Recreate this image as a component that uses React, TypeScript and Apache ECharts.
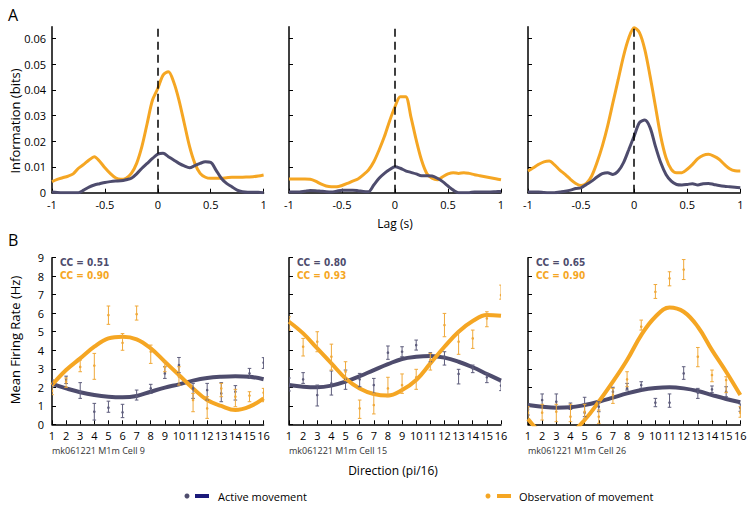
import React, { useEffect, useRef } from "react";
import * as echarts from "echarts";

// ---------- Panel A: information vs lag ----------
const lags = [
  -1, -0.95, -0.9, -0.85, -0.8, -0.75, -0.7, -0.65, -0.6, -0.55, -0.5, -0.45, -0.4, -0.35, -0.3, -0.25,
  -0.2, -0.15, -0.1, -0.05, 0, 0.05, 0.1, 0.15, 0.2, 0.25, 0.3, 0.35, 0.4, 0.45, 0.5, 0.55, 0.6, 0.65,
  0.7, 0.75, 0.8, 0.85, 0.9, 0.95, 1,
];
const lagTicks = [-1, -0.5, 0, 0.5, 1];
const infoTicks = [0, 0.01, 0.02, 0.03, 0.04, 0.05, 0.06];

const cell9InfoObs = [
  0.0043, 0.0052, 0.0058, 0.0064, 0.0073, 0.0095, 0.011, 0.0127, 0.014, 0.0122, 0.0097, 0.0075, 0.0058,
  0.0052, 0.0056, 0.0075, 0.0114, 0.018, 0.027, 0.036, 0.0405, 0.0457, 0.047, 0.043, 0.036, 0.027, 0.018,
  0.0114, 0.0075, 0.006, 0.0056, 0.0056, 0.0056, 0.0058, 0.006, 0.006, 0.006, 0.0061, 0.0062, 0.0065, 0.0069,
];
const cell9InfoAct = [
  0.0003, 0.0001, 0, 0, 0, 0, 0.001, 0.0022, 0.003, 0.0035, 0.004, 0.0043, 0.0045, 0.0046, 0.005, 0.0056,
  0.0073, 0.0095, 0.0114, 0.0133, 0.015, 0.0153, 0.014, 0.0127, 0.0114, 0.0104, 0.0097, 0.0105, 0.0114,
  0.012, 0.0118, 0.0088, 0.0056, 0.0036, 0.0023, 0.001, 0.0004, 0.0002, 0.0002, 0.0002, 0,
];
const cell15InfoObs = [
  0.0053, 0.0053, 0.0053, 0.0053, 0.0052, 0.0045, 0.0034, 0.0026, 0.0023, 0.0023, 0.0028, 0.0036, 0.0045,
  0.0053, 0.0069, 0.0088, 0.012, 0.0166, 0.0218, 0.028, 0.0334, 0.0373, 0.0373, 0.0295, 0.0205, 0.0127,
  0.0075, 0.0056, 0.005, 0.0062, 0.0073, 0.0078, 0.0075, 0.0078, 0.0075, 0.007, 0.0066, 0.0062, 0.0058,
  0.0054, 0.005,
];
const cell15InfoAct = [
  0.0003, 0.0003, 0.0003, 0.0006, 0.0009, 0.0008, 0.0006, 0.0004, 0.0003, 0.0006, 0.001, 0.001, 0.001,
  0.0008, 0.0005, 0.0004, 0.003, 0.0056, 0.0075, 0.009, 0.0101, 0.0095, 0.0085, 0.0079, 0.0073, 0.0066,
  0.0066, 0.0065, 0.0056, 0.0043, 0.0026, 0.001, 0, 0, 0, 0.0003, 0.0003, 0.0003, 0.0003, 0.0004, 0.0005,
];
const cell26InfoObs = [
  0.0084, 0.0097, 0.011, 0.012, 0.0123, 0.0108, 0.0088, 0.0071, 0.0052, 0.0036, 0.0028, 0.0036, 0.0065,
  0.0117, 0.0181, 0.0259, 0.035, 0.044, 0.0531, 0.0602, 0.0641, 0.0622, 0.0557, 0.0453, 0.0337, 0.022,
  0.0136, 0.0091, 0.0078, 0.0078, 0.0091, 0.011, 0.0132, 0.0145, 0.0149, 0.0142, 0.013, 0.011, 0.0093,
  0.0085, 0.0084,
];
const cell26InfoAct = [
  0.0003, 0.0003, 0.0003, 0.0001, 0, 0, 0.0003, 0.0006, 0.001, 0.0016, 0.0019, 0.0032, 0.0045, 0.0061,
  0.0074, 0.0078, 0.0071, 0.0084, 0.0117, 0.0168, 0.022, 0.0272, 0.0282, 0.0253, 0.0181, 0.0117, 0.0071,
  0.0045, 0.0032, 0.003, 0.0032, 0.0035, 0.003, 0.0035, 0.0036, 0.0032, 0.0028, 0.0025, 0.0023, 0.0021,
  0.0019,
];

// ---------- Panel B: tuning curves ----------
const directions = [1, 2, 3, 4, 5, 6, 7, 8, 9, 10, 11, 12, 13, 14, 15, 16];
const rateTicks = [0, 1, 2, 3, 4, 5, 6, 7, 8, 9];

const cell9FitAct = [2.18, 1.94, 1.73, 1.58, 1.49, 1.46, 1.53, 1.76, 1.98, 2.16, 2.36, 2.5, 2.57, 2.6, 2.57, 2.43];
const cell9FitObs = [2.12, 2.93, 3.56, 4.19, 4.64, 4.73, 4.59, 4.1, 3.38, 2.66, 1.94, 1.31, 0.99, 0.77, 0.95, 1.4];
const cell9ActMean = [2.2, 2.4, 1.76, 0.68, 0.9, 0.65, 1.49, 1.94, 2.75, 3.2, 1.94, 1.85, 1.67, 1.76, 2.75, 3.33];
const cell9ActLo = [2.0, 2.2, 1.4, 0.23, 0.65, 0.36, 1.31, 1.67, 2.48, 2.79, 1.4, 1.31, 1.22, 1.31, 2.48, 3.02];
const cell9ActHi = [2.4, 2.6, 2.25, 1.13, 1.25, 1.08, 1.85, 2.16, 3.11, 3.61, 2.21, 2.21, 2.25, 2.09, 3.02, 3.6];
const cell9ObsMean = [1.8, 2.3, 3.1, 3.17, 5.9, 4.4, 5.95, 3.92, 3.1, 2.57, 1.31, 0.86, 1.94, 1.49, 1.55, 1.71];
const cell9ObsLo = [1.6, 2.0, 2.84, 2.43, 5.4, 4.0, 5.63, 3.29, 2.84, 2.12, 0.68, 0.32, 1.49, 0.95, 1.22, 1.22];
const cell9ObsHi = [2.1, 2.5, 3.47, 3.83, 6.39, 4.9, 6.39, 4.28, 3.38, 3.11, 1.67, 1.49, 2.21, 1.89, 1.76, 1.94];

const cell15FitAct = [2.12, 2.03, 2.0, 2.09, 2.3, 2.6, 2.93, 3.25, 3.53, 3.65, 3.69, 3.6, 3.38, 3.08, 2.72, 2.36];
const cell15FitObs = [5.54, 4.91, 4.1, 3.29, 2.48, 1.94, 1.64, 1.55, 1.85, 2.39, 3.29, 4.19, 5.0, 5.58, 5.9, 5.86];
const cell15ActMean = [2.09, 2.43, 1.58, 2.21, 2.43, 2.43, 2.12, 3.87, 3.92, 4.28, 3.65, 3.65, 2.72, 3.02, 2.54, 2.09];
const cell15ActLo = [1.8, 2.21, 0.99, 1.58, 1.89, 2.03, 1.67, 3.51, 3.65, 4.01, 3.38, 3.2, 2.18, 2.79, 2.25, 1.82];
const cell15ActHi = [2.5, 2.79, 2.12, 2.88, 2.93, 2.75, 2.48, 4.23, 4.19, 4.55, 3.87, 3.92, 2.97, 3.2, 2.75, 2.3];
const cell15ObsMean = [5.63, 4.19, 4.46, 3.65, 2.84, 0.86, 1.04, 1.94, 2.12, 2.54, 3.47, 5.36, 4.46, 4.64, 5.72, 6.98];
const cell15ObsLo = [5.09, 3.69, 3.92, 2.93, 2.36, 0.32, 0.56, 1.49, 1.67, 1.89, 2.93, 4.73, 3.78, 4.1, 5.27, 6.76];
const cell15ObsHi = [5.81, 4.64, 5.0, 4.33, 3.38, 1.31, 1.67, 2.54, 2.72, 2.97, 3.83, 5.99, 5.0, 5.09, 6.08, 7.52];

const cell26FitAct = [1.04, 0.95, 0.9, 0.92, 1.04, 1.22, 1.44, 1.67, 1.85, 1.96, 2.0, 1.94, 1.8, 1.58, 1.37, 1.19];
const cell26FitObs = [0.29, -0.5, -0.8, -0.5, 0.23, 1.22, 2.3, 3.47, 4.82, 5.81, 6.31, 6.08, 5.27, 4.01, 2.84, 1.58];
const cell26ActMean = [0.8, 1.31, 1.22, 1.0, 0.63, 0.95, 1.76, 1.94, 2.12, 1.17, 1.17, 2.75, 1.71, 1.89, 1.76, 0.9];
const cell26ActLo = [0.5, 0.95, 0.95, 0.8, 0.41, 0.68, 1.49, 1.85, 1.94, 0.95, 0.92, 2.43, 1.4, 1.71, 1.49, 0.7];
const cell26ActHi = [1.1, 1.64, 1.64, 1.15, 1.46, 1.22, 2.0, 2.21, 2.3, 1.4, 1.64, 3.11, 1.94, 2.07, 2.03, 1.1];
const cell26ObsMean = [0.63, 0.63, 0.68, 0.41, 0.68, 0.41, 1.58, 2.43, 5.27, 7.16, 7.88, 8.36, 3.65, 2.66, 2.39, 0.63];
const cell26ObsLo = [0.3, 0.23, 0.14, 0.14, 0.3, 0.05, 1.13, 2.03, 5.09, 6.8, 7.48, 7.82, 3.11, 2.3, 1.71, 0.38];
const cell26ObsHi = [0.95, 1.08, 1.08, 1.08, 1.08, 0.77, 1.94, 2.84, 5.63, 7.55, 8.24, 8.9, 4.15, 2.93, 2.57, 0.95];

const cellNames = ["mk061221 M1m Cell 9", "mk061221 M1m Cell 15", "mk061221 M1m Cell 26"];
const ccActive = ["CC = 0.51", "CC = 0.80", "CC = 0.65"];
const ccObs = ["CC = 0.90", "CC = 0.93", "CC = 0.90"];

const ORANGE = "#F5A623";
const PURPLE = "#4E4C6D";
const ORANGE_ERR = "#F0A93A";
const PURPLE_ERR = "#5E5D7C";
const FONT = "'Open Sans', 'Noto Sans', sans-serif";
const NARROW = "'Liberation Sans Narrow', 'DejaVu Sans Condensed', sans-serif";

const lefts = [52, 289, 528];
const widths = [211.6, 212, 212.3];

function pair(xs: number[], ys: number[]) {
  return xs.map((x, i) => [x, ys[i]]);
}
function errData(mean: number[], lo: number[], hi: number[]) {
  return directions.map((d, i) => [d, mean[i], lo[i], hi[i]]);
}

export default function App() {
  const ref = useRef<HTMLDivElement>(null);
  useEffect(() => {
    const chart = echarts.init(ref.current!, null, { renderer: "svg" });

    const infoObs = [cell9InfoObs, cell15InfoObs, cell26InfoObs];
    const infoAct = [cell9InfoAct, cell15InfoAct, cell26InfoAct];
    const fitAct = [cell9FitAct, cell15FitAct, cell26FitAct];
    const fitObs = [cell9FitObs, cell15FitObs, cell26FitObs];
    const actErr = [
      errData(cell9ActMean, cell9ActLo, cell9ActHi),
      errData(cell15ActMean, cell15ActLo, cell15ActHi),
      errData(cell26ActMean, cell26ActLo, cell26ActHi),
    ];
    const obsErr = [
      errData(cell9ObsMean, cell9ObsLo, cell9ObsHi),
      errData(cell15ObsMean, cell15ObsLo, cell15ObsHi),
      errData(cell26ObsMean, cell26ObsLo, cell26ObsHi),
    ];

    const grid: any[] = [];
    const xAxis: any[] = [];
    const yAxis: any[] = [];
    const series: any[] = [];
    const axisLine = { show: true, onZero: false, lineStyle: { color: "#000", width: 1.5 } };
    const axisTick = { show: true, inside: true, length: 4, lineStyle: { color: "#000", width: 1 } };

    for (let i = 0; i < 3; i++) {
      grid.push({ left: lefts[i], top: 26.7, width: widths[i], height: 166 });
      xAxis.push({
        type: "value", gridIndex: i, min: -1, max: 1, interval: 0.5,
        axisLine, axisTick: { ...axisTick, customValues: lagTicks },
        axisLabel: { customValues: lagTicks, color: "#000", fontSize: 11, fontFamily: FONT, margin: 6 },
        splitLine: { show: false },
      });
      yAxis.push({
        type: "value", gridIndex: i, min: 0, max: 0.0645,
        axisLine, axisTick: { ...axisTick, customValues: infoTicks },
        axisLabel: {
          show: i === 0, customValues: infoTicks, color: "#000", fontSize: 11, fontFamily: FONT, margin: 6,
          formatter: (v: number) => (v === 0 ? "0" : v.toFixed(2)),
        },
        splitLine: { show: false },
      });
      series.push({
        type: "line", xAxisIndex: i, yAxisIndex: i, data: pair(lags, infoObs[i]),
        showSymbol: false, smooth: 0.3, lineStyle: { color: ORANGE, width: 3 }, itemStyle: { color: ORANGE },
      });
      series.push({
        type: "line", xAxisIndex: i, yAxisIndex: i, data: pair(lags, infoAct[i]),
        showSymbol: false, smooth: 0.3, lineStyle: { color: PURPLE, width: 3 }, itemStyle: { color: PURPLE },
        markLine: {
          silent: true, symbol: "none", label: { show: false },
          lineStyle: { color: "#000", type: [8, 5], width: 1.5 },
          data: [{ xAxis: 0 }],
        },
      });
    }

    const errRender = (color: string) => (params: any, api: any) => {
      const x = api.value(0);
      const pm = api.coord([x, api.value(1)]);
      const pl = api.coord([x, api.value(2)]);
      const ph = api.coord([x, api.value(3)]);
      const w = 1.8;
      const st = { stroke: color, lineWidth: 1 };
      return {
        type: "group",
        children: [
          { type: "line", shape: { x1: pl[0], y1: pl[1], x2: ph[0], y2: ph[1] }, style: st },
          { type: "line", shape: { x1: pl[0] - w, y1: pl[1], x2: pl[0] + w, y2: pl[1] }, style: st },
          { type: "line", shape: { x1: ph[0] - w, y1: ph[1], x2: ph[0] + w, y2: ph[1] }, style: st },
          { type: "circle", shape: { cx: pm[0], cy: pm[1], r: 1.3 }, style: { fill: color } },
        ],
      };
    };

    for (let i = 0; i < 3; i++) {
      const g = i + 3;
      grid.push({ left: lefts[i], top: 257.7, width: widths[i], height: 166.6 });
      xAxis.push({
        type: "value", gridIndex: g, min: 1, max: 16, interval: 1,
        axisLine, axisTick,
        axisLabel: { color: "#000", fontSize: 11, fontFamily: FONT, margin: 6, hideOverlap: false },
        splitLine: { show: false },
      });
      yAxis.push({
        type: "value", gridIndex: g, min: 0, max: 9, interval: 1,
        axisLine, axisTick,
        axisLabel: { show: i === 0, customValues: rateTicks, color: "#000", fontSize: 11, fontFamily: FONT, margin: 8 },
        splitLine: { show: false },
      });
      series.push({
        type: "line", xAxisIndex: g, yAxisIndex: g, data: pair(directions, fitAct[i]),
        showSymbol: false, smooth: 0.4, clip: true, lineStyle: { color: PURPLE, width: 4 }, itemStyle: { color: PURPLE },
      });
      series.push({
        type: "line", xAxisIndex: g, yAxisIndex: g, data: pair(directions, fitObs[i]),
        showSymbol: false, smooth: 0.4, clip: true, lineStyle: { color: ORANGE, width: 4 }, itemStyle: { color: ORANGE },
      });
      series.push({
        type: "custom", xAxisIndex: g, yAxisIndex: g, data: actErr[i], clip: true,
        encode: { x: 0, y: [1, 2, 3] }, renderItem: errRender(PURPLE_ERR), z: 5,
      });
      series.push({
        type: "custom", xAxisIndex: g, yAxisIndex: g, data: obsErr[i], clip: true,
        encode: { x: 0, y: [1, 2, 3] }, renderItem: errRender(ORANGE_ERR), z: 6,
      });
    }

    const graphic: any[] = [
      { type: "text", left: 8, top: 7, style: { text: "A", fontSize: 16, fontFamily: FONT, fill: "#000" } },
      { type: "text", left: 8, top: 232, style: { text: "B", fontSize: 16, fontFamily: FONT, fill: "#000" } },
      {
        type: "text", x: 15, y: 121, rotation: Math.PI / 2,
        style: { text: "Information (bits)", fontSize: 13, fontFamily: FONT, fill: "#000", align: "center", verticalAlign: "middle" },
      },
      {
        type: "text", x: 15, y: 340, rotation: Math.PI / 2,
        style: { text: "Mean Firing Rate (Hz)", fontSize: 13, fontFamily: FONT, fill: "#000", align: "center", verticalAlign: "middle" },
      },
      {
        type: "text", x: 395, y: 223,
        style: { text: "Lag (s)", fontSize: 12, fontFamily: FONT, fill: "#000", align: "center", verticalAlign: "middle" },
      },
      {
        type: "text", x: 393, y: 470,
        style: { text: "Direction (pi/16)", fontSize: 12, fontFamily: FONT, fill: "#000", align: "center", verticalAlign: "middle" },
      },
      // legend
      { type: "circle", shape: { cx: 187, cy: 496, r: 2.5 }, style: { fill: PURPLE } },
      { type: "rect", shape: { x: 195, y: 494, width: 14, height: 4 }, style: { fill: "#1B1A7A" } },
      {
        type: "text", x: 218, y: 496,
        style: { text: "Active movement", fontSize: 11, fontFamily: FONT, fill: "#000", verticalAlign: "middle" },
      },
      { type: "circle", shape: { cx: 488, cy: 496, r: 2.5 }, style: { fill: ORANGE } },
      { type: "rect", shape: { x: 497, y: 494, width: 14, height: 4 }, style: { fill: ORANGE } },
      {
        type: "text", x: 519, y: 496,
        style: { text: "Observation of movement", fontSize: 11, fontFamily: FONT, fill: "#000", verticalAlign: "middle" },
      },
    ];
    for (let i = 0; i < 3; i++) {
      graphic.push({
        type: "text", x: lefts[i], y: 450,
        style: { text: cellNames[i], fontSize: 9, fontFamily: FONT, fill: "#333", verticalAlign: "middle" },
      });
      graphic.push({
        type: "text", x: lefts[i] + 8, y: 262,
        style: { text: ccActive[i], fontSize: 10, fontWeight: "bold", fontFamily: NARROW, fill: PURPLE, verticalAlign: "middle" },
      });
      graphic.push({
        type: "text", x: lefts[i] + 8, y: 275,
        style: { text: ccObs[i], fontSize: 10, fontWeight: "bold", fontFamily: NARROW, fill: ORANGE, verticalAlign: "middle" },
      });
    }

    chart.setOption({
      animation: false,
      backgroundColor: "#fff",
      grid, xAxis, yAxis, series, graphic,
    });
    return () => chart.dispose();
  }, []);
  return <div ref={ref} style={{ position: "fixed", left: 0, top: 0, width: 752, height: 506 }} />;
}
